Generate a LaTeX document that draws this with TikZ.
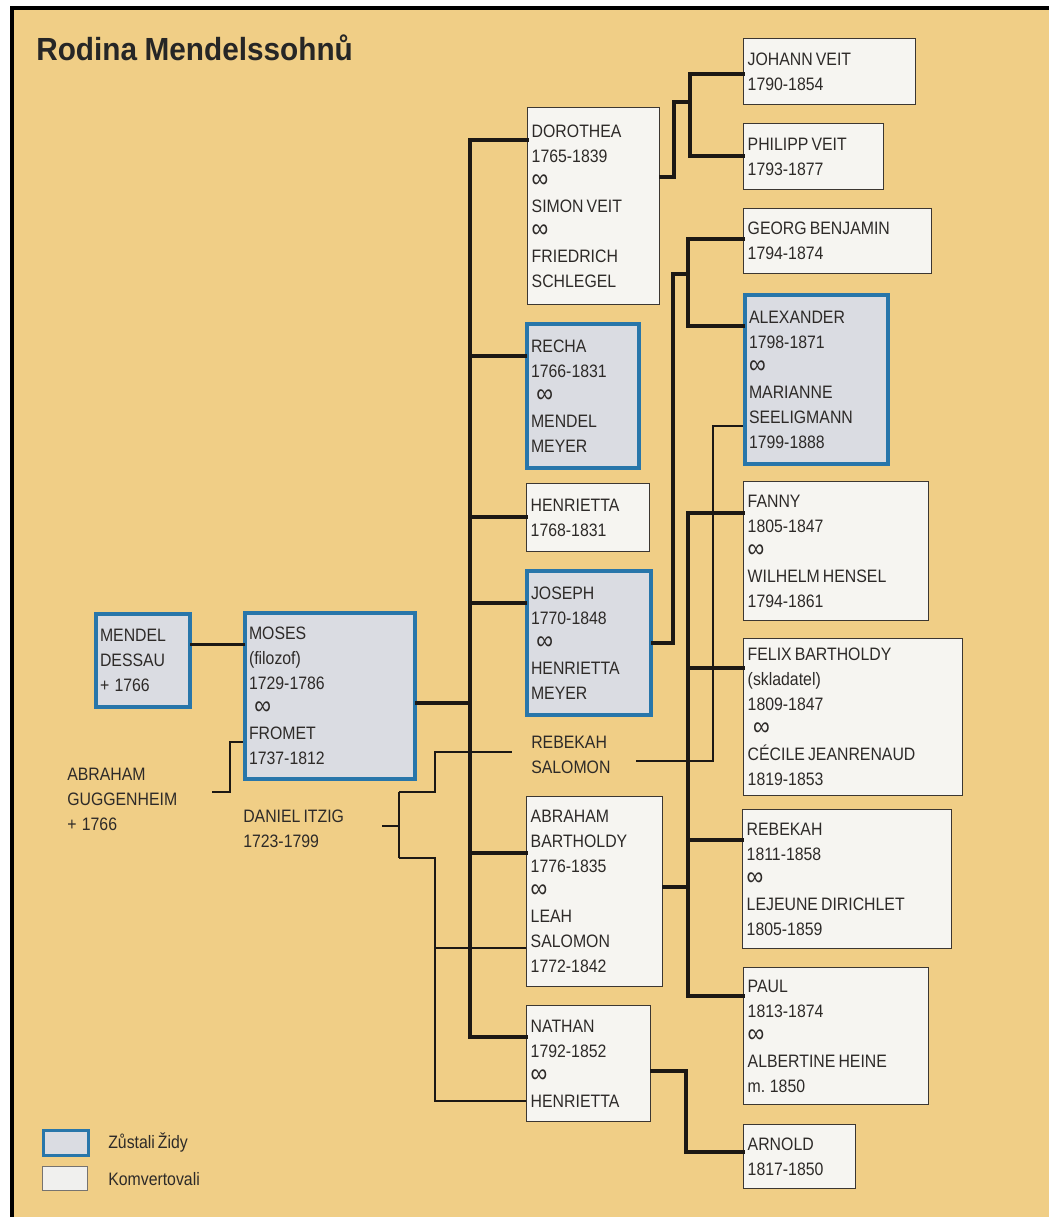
\documentclass[tikz,border=0pt]{standalone}
\usepackage{fontspec}
\setmainfont{Liberation Sans}[FakeStretch=0.88, WordSpace=0.7]
\newfontfamily\titlefont{Liberation Sans}[FakeStretch=0.93, WordSpace=0.9]
\newcommand\infsym{{\fontsize{20pt}{18.75pt}\selectfont ∞}}
\definecolor{tan}{RGB}{240,206,134}
\definecolor{bluebord}{RGB}{40,118,170}
\definecolor{grayfill}{RGB}{218,220,226}
\definecolor{whitefill}{RGB}{246,245,241}
\definecolor{boxline}{RGB}{60,55,50}
\definecolor{txt}{RGB}{45,42,40}
\definecolor{conn}{RGB}{28,24,20}
\tikzset{
  person/.style={rectangle, anchor=north west, align=flush left, inner xsep=3pt, inner ysep=0pt,
    font=\fontsize{13.5pt}{18.75pt}\selectfont, text=txt},
  conv/.style={person, draw=boxline, fill=whitefill, line width=1.1pt},
  jew/.style={person, draw=bluebord, fill=grayfill, line width=3pt},
  wh/.style n args={3}{minimum width=#1pt, minimum height=#2pt, text width=#3pt},
  free/.style={align=left, inner sep=0pt, font=\fontsize{13.5pt}{18.75pt}\selectfont, text=txt},
  thickline/.style={draw=conn, line width=2.6pt, line cap=rect},
  thinline/.style={draw=conn, line width=0.9pt},
}
\begin{document}
\begin{tikzpicture}[x=0.75pt,y=-0.75pt]
\useasboundingbox (0,0) rectangle (1049,1217);
\fill[white] (0,0) rectangle (1049,1217);
\fill[tan] (12,8) rectangle (1049,1217);
\draw[black, line width=2.5pt] (12,1217) -- (12,8) -- (1049,8);

\node[anchor=base west, inner sep=0pt, text=black!85,
  font=\titlefont\bfseries\fontsize{24pt}{28pt}\selectfont] (title) at (36,60) {Rodina Mendelssohnů};

% persons
\node[jew, wh={70.5}{69.75}{64.5}] (mendel) at (94,612) {MENDEL\\DESSAU\\+\hspace{4pt}1766};
\node[jew, wh={127.5}{124.5}{121.5}] (moses) at (243,611) {MOSES\\(filozof)\\1729-1786\\\hspace{4pt}\infsym\\FROMET\\1737-1812};
\node[conv, wh={99}{147.75}{93}] (doro) at (527,107) {DOROTHEA\\1765-1839\\\infsym\\SIMON VEIT\\\infsym\\FRIEDRICH\\SCHLEGEL};
\node[jew, wh={84}{108}{78}] (recha) at (525,322) {RECHA\\1766-1831\\\hspace{4pt}\infsym\\MENDEL\\MEYER};
\node[conv, wh={92.25}{51}{86.25}] (henr) at (526,483) {HENRIETTA\\1768-1831};
\node[jew, wh={93}{108}{87}] (joseph) at (525,569) {JOSEPH\\1770-1848\\\hspace{4pt}\infsym\\HENRIETTA\\MEYER};
\node[conv, wh={102}{142.5}{96}] (abraham) at (526,796) {ABRAHAM\\BARTHOLDY\\1776-1835\\\infsym\\LEAH\\SALOMON\\1772-1842};
\node[conv, wh={93}{87}{87}] (nathan) at (526,1005) {NATHAN\\1792-1852\\\infsym\\HENRIETTA};

\node[conv, wh={129}{49.5}{123}] (johann) at (743,38) {JOHANN VEIT\\1790-1854};
\node[conv, wh={105}{49.5}{99}] (philipp) at (743,123) {PHILIPP VEIT\\1793-1877};
\node[conv, wh={141}{48.75}{135}] (georg) at (743,208) {GEORG BENJAMIN\\1794-1874};
\node[jew, wh={107.25}{126.75}{101.25}] (alex) at (743,293) {ALEXANDER\\1798-1871\\\infsym\\MARIANNE\\SEELIGMANN\\1799-1888};
\node[conv, wh={138.75}{104.25}{132.75}] (fanny) at (743,481) {FANNY\\1805-1847\\\infsym\\WILHELM HENSEL\\1794-1861};
\node[conv, wh={164.25}{117.75}{158.25}] (felix) at (743,638) {FELIX BARTHOLDY\\(skladatel)\\1809-1847\\\hspace{4pt}\infsym\\CÉCILE JEANRENAUD\\1819-1853};
\node[conv, wh={156.75}{104.25}{150.75}] (rebekah) at (742,809) {REBEKAH\\1811-1858\\\infsym\\LEJEUNE DIRICHLET\\1805-1859};
\node[conv, wh={138.75}{102.75}{132.75}] (paul) at (743,967) {PAUL\\1813-1874\\\infsym\\ALBERTINE HEINE\\m. 1850};
\node[conv, wh={84}{48}{78}] (arnold) at (743,1124) {ARNOLD\\1817-1850};

% free texts
\node[free, anchor=west] (gug) at (67,799) {ABRAHAM\\GUGGENHEIM\\+\hspace{4pt}1766};
\node[free, anchor=west] (itzig) at (243,829) {DANIEL ITZIG\\1723-1799};
\node[free, anchor=west] (rsal) at (531,755) {REBEKAH\\SALOMON};

% thick connectors
\draw[thickline] ([yshift=12pt]mendel.east) -- ([yshift=12pt]mendel.east -| moses.west);
\coordinate (tM) at (470,703);
\coordinate (tD) at (470,140);
\coordinate (tR) at (470,356);
\coordinate (tH) at (470,517);
\coordinate (tJ) at (470,603);
\coordinate (tA) at (470,853);
\coordinate (tN) at (470,1037);
\draw[thickline] (tM -| moses.east) -- (tM);
\draw[thickline] (tD) -- (tN);
\draw[thickline] (tD) -- (tD -| doro.west);
\draw[thickline] (tR) -- (tR -| recha.west);
\draw[thickline] (tH) -- (tH -| henr.west);
\draw[thickline] (tJ) -- (tJ -| joseph.west);
\draw[thickline] (tA) -- (tA -| abraham.west);
\draw[thickline] (tN) -- (tN -| nathan.west);

% Dorothea's children
\coordinate (dj) at (674,177);
\coordinate (dk) at (690,102);
\coordinate (dv1) at (690,74);
\coordinate (dv2) at (690,156);
\draw[thickline] (dj -| doro.east) -- (dj) |- (dk);
\draw[thickline] (dv1 -| johann.west) -- (dv1) -- (dv2) -- (dv2 -| philipp.west);

% Joseph's children
\coordinate (jj) at (673,643);
\coordinate (jk) at (688,274);
\coordinate (jv1) at (688,239);
\coordinate (jv2) at (688,326);
\draw[thickline] (jj -| joseph.east) -- (jj) |- (jk);
\draw[thickline] (jv1 -| georg.west) -- (jv1) -- (jv2) -- (jv2 -| alex.west);

% Abraham's children
\coordinate (av1) at (688,513);
\coordinate (av2) at (688,668);
\coordinate (av3) at (688,840);
\coordinate (av4) at (688,996);
\coordinate (aj) at (688,887);
\draw[thickline] (av1 -| fanny.west) -- (av1) -- (av4) -- (av4 -| paul.west);
\draw[thickline] (av2) -- (av2 -| felix.west);
\draw[thickline] (av3) -- (av3 -| rebekah.west);
\draw[thickline] (aj -| abraham.east) -- (aj);

% Nathan's child
\coordinate (nj) at (686,1071);
\coordinate (nk) at (686,1152);
\draw[thickline] (nj -| nathan.east) -- (nj) -- (nk) -- (nk -| arnold.west);

% thin connectors
\coordinate (gA) at (212,792);
\coordinate (gB) at (230,742);
\draw[thinline] (gA) -| (gB) -- (gB -| moses.west);

\coordinate (iA) at (382,826);
\coordinate (iB) at (399,792);
\coordinate (iC) at (399,858);
\coordinate (iD) at (435,752);
\coordinate (iE) at (435,1101);
\coordinate (iF) at (435,948);
\coordinate (iR) at (512,752);
\draw[thinline] (iA) -- (iA -| iB);
\draw[thinline] (iB) -- (iC);
\draw[thinline] (iB) -| (iD) -- (iR);
\draw[thinline] (iC) -| (iE) -- (iE -| nathan.west);
\draw[thinline] (iF) -- (iF -| abraham.west);

\coordinate (rA) at (636,761);
\coordinate (rB) at (713,426);
\draw[thinline] (rA) -| (rB) -- (rB -| alex.west);

% legend
\node[rectangle, anchor=north west, draw=bluebord, fill=grayfill, line width=2.2pt,
  minimum width=33.75pt, minimum height=18.75pt, inner sep=0pt] (legj) at (42,1129) {};
\node[rectangle, anchor=north west, draw=boxline!70, fill=whitefill!80!grayfill, line width=1.1pt,
  minimum width=33.75pt, minimum height=18pt, inner sep=0pt] (legc) at (42,1166) {};
\node[free, anchor=west] (legjt) at (108,1142) {Zůstali Židy};
\node[free, anchor=west] (legct) at (108,1179) {Komvertovali};
\end{tikzpicture}
\end{document}
